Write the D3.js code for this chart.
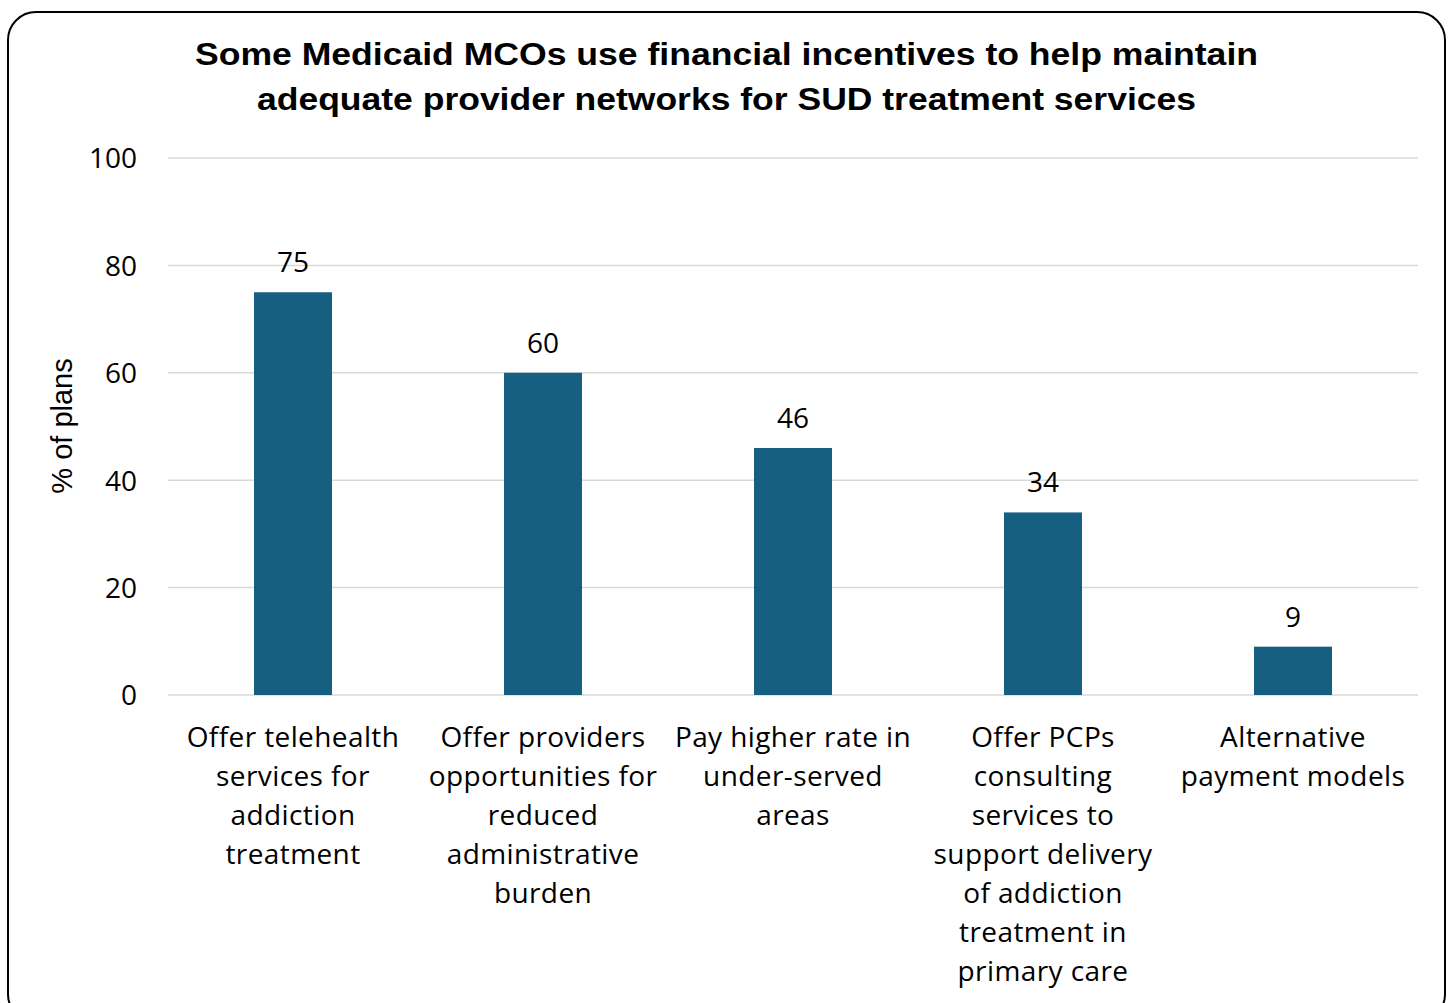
<!DOCTYPE html>
<html><head><meta charset="utf-8">
<script src="https://cdn.jsdelivr.net/npm/d3@7"></script>
<style>html,body{margin:0;padding:0;background:#fff;}</style>
</head><body>
<script>
const categories = [
  ["Offer telehealth","services for","addiction","treatment"],
  ["Offer providers","opportunities for","reduced","administrative","burden"],
  ["Pay higher rate in","under-served","areas"],
  ["Offer PCPs","consulting","services to","support delivery","of addiction","treatment in","primary care"],
  ["Alternative","payment models"]
];
const values = [75, 60, 46, 34, 9];
const yTicks = [0, 20, 40, 60, 80, 100];
const titleLines = ["Some Medicaid MCOs use financial incentives to help maintain","adequate provider networks for SUD treatment services"];
const yTitle = "% of plans";

const W = 1453, H = 1003;
const svg = d3.select("body").append("svg").attr("width", W).attr("height", H);
svg.append("rect").attr("x",8).attr("y",12).attr("width",1437).attr("height",1010)
  .attr("rx",28).attr("fill","#fff").attr("stroke","#000").attr("stroke-width",2);

const fontT = "'Liberation Sans', Arial, sans-serif";
const fontB = "'Open Sans', sans-serif";
const titleW = [1063, 939];

svg.selectAll("text.title").data(titleLines).enter().append("text")
  .attr("x",726.5).attr("y",(d,i)=>65+i*45).attr("text-anchor","middle")
  .attr("textLength",(d,i)=>titleW[i]).attr("lengthAdjust","spacingAndGlyphs")
  .attr("font-family",fontT).attr("font-weight","bold").attr("font-size",31).attr("fill","#000").text(d=>d);

const x = d3.scaleBand().domain(d3.range(categories.length)).range([168,1418]).paddingInner(0.688).paddingOuter(0.344);
const y = d3.scaleLinear().domain([0,100]).range([695,158]);

const g = svg.append("g");
g.selectAll("line.grid").data(yTicks).enter().append("line")
  .attr("x1",168).attr("x2",1418).attr("y1",d=>y(d)).attr("y2",d=>y(d))
  .attr("stroke","#d9d9d9").attr("stroke-width",1.5);

const yAxis = d3.axisLeft(y).tickValues(yTicks).tickSize(0).tickPadding(0);
const ya = svg.append("g").attr("transform","translate(137,0)").call(yAxis);
ya.select(".domain").remove();
ya.selectAll("text").attr("font-family",fontB).attr("font-size",28).attr("fill","#000").attr("dy","0.35em");

svg.append("text").attr("transform","translate(72,426) rotate(-90)").attr("text-anchor","middle")
  .attr("font-family",fontT).attr("font-size",29).attr("fill","#000").text(yTitle);

g.selectAll("rect.bar").data(values).enter().append("rect")
  .attr("x",(d,i)=>x(i)).attr("width",x.bandwidth()).attr("y",d=>y(d)).attr("height",d=>y(0)-y(d))
  .attr("fill","#175f80");

g.selectAll("text.val").data(values).enter().append("text")
  .attr("x",(d,i)=>x(i)+x.bandwidth()/2).attr("y",d=>y(d)-20).attr("text-anchor","middle")
  .attr("font-family",fontB).attr("font-size",28).attr("fill","#000").text(d=>d);

const cl = svg.selectAll("g.cat").data(categories).enter().append("g")
  .attr("transform",(d,i)=>`translate(${x(i)+x.bandwidth()/2},0)`);
cl.selectAll("text").data(d=>d).enter().append("text")
  .attr("x",0).attr("y",(d,i)=>747+i*39).attr("text-anchor","middle")
  .attr("font-family",fontB).attr("font-size",28).attr("letter-spacing",0.4).attr("fill","#000").text(d=>d);
</script>
</body></html>
